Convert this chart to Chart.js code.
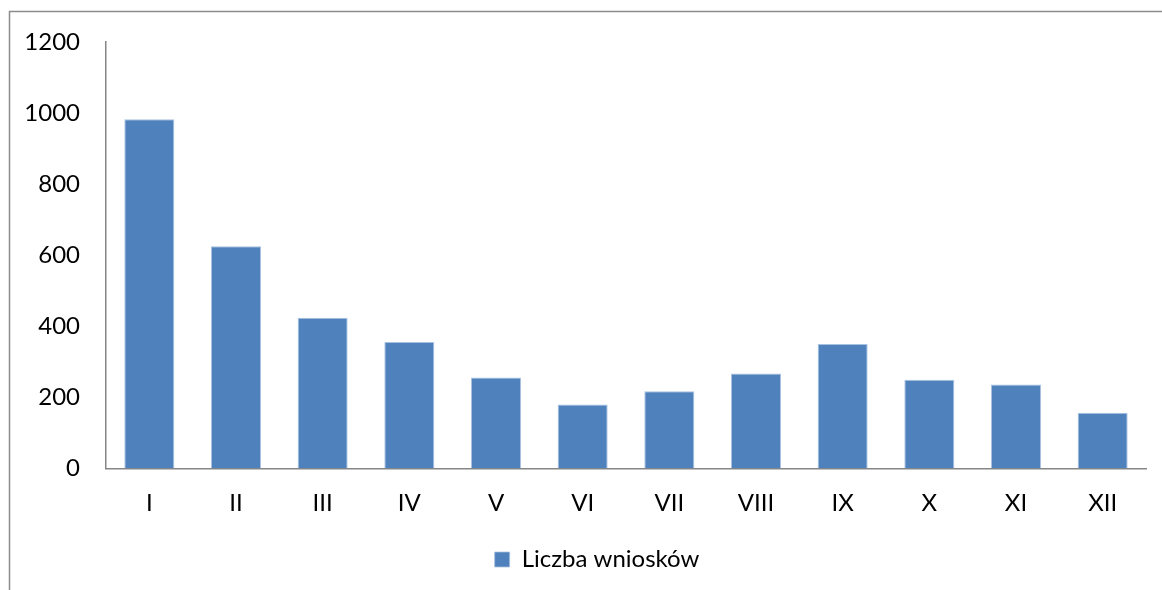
<!DOCTYPE html>
<html>
<head>
<meta charset="utf-8">
<script src="https://cdn.jsdelivr.net/npm/chart.js@4.4.0/dist/chart.umd.min.js"></script>
<style>
    html, body { margin: 0; padding: 0; background: #fff; }
    #wrap { position: relative; width: 1162px; height: 590px; }
</style>
</head>
<body>
<div id="wrap">
    <canvas id="mainChart" width="1162" height="590"></canvas>
</div>
<script>
const months = ["I", "II", "III", "IV", "V", "VI", "VII", "VIII", "IX", "X", "XI", "XII"];
const requests = [983, 625, 424, 356, 256, 180, 217, 267, 350, 250, 236, 157];
const seriesName = "Liczba wniosków";
const yTicks = [0, 200, 400, 600, 800, 1000, 1200];

const FONT = "Lato";

// frame around the chart (only left and top edges are visible in the crop)
const framePlugin = {
    id: 'frame',
    beforeDraw(chart) {
        const ctx = chart.ctx;
        ctx.save();
        ctx.fillStyle = '#fff';
        ctx.fillRect(0, 0, chart.width, chart.height);
        ctx.strokeStyle = '#8c8c8c';
        ctx.lineWidth = 1.5;
        ctx.beginPath();
        ctx.moveTo(9.5, chart.height);
        ctx.lineTo(9.5, 11.5);
        ctx.lineTo(chart.width, 11.5);
        ctx.stroke();
        ctx.restore();
    },
    // legend sits a bit right of the canvas centre in the original
    afterLayout(chart) {
        if (chart.legend) {
            chart.legend.left += 24;
            chart.legend.right += 24;
        }
    }
};

new Chart(document.getElementById("mainChart"), {
    type: 'bar',
    data: {
        labels: months,
        datasets: [{
            label: seriesName,
            data: requests,
            backgroundColor: '#4f81bd',
            borderColor: '#a9c1e0',
            borderWidth: {left: 1, right: 1, top: 1, bottom: 0},
            barPercentage: 0.577,
            categoryPercentage: 1.0
        }]
    },
    options: {
        responsive: false,
        animation: false,
        layout: { padding: { top: 42, right: 16, bottom: 8.5, left: 0 } },
        plugins: {
            legend: {
                position: 'bottom',
                labels: {
                    boxWidth: 15,
                    boxHeight: 15,
                    padding: 10,
                    color: '#000',
                    font: { family: FONT, size: 24 }
                }
            },
            tooltip: { enabled: false }
        },
        scales: {
            x: {
                grid: { display: false, drawTicks: false },
                border: { display: true, color: '#868686', width: 1.5 },
                ticks: {
                    color: '#000',
                    padding: 20,
                    font: { family: FONT, size: 24 }
                },
                afterFit(scale) { scale.height = 69; }
            },
            y: {
                min: 0,
                max: 1200,
                grid: { display: false, drawTicks: false },
                border: { display: true, color: '#868686', width: 1.5 },
                afterBuildTicks(scale) {
                    scale.ticks = yTicks.map(v => ({ value: v }));
                },
                ticks: {
                    color: '#000',
                    padding: 26,
                    font: { family: FONT, size: 24 },
                    callback: (v) => String(v)
                },
                afterFit(scale) { scale.width = 106; }
            }
        }
    },
    plugins: [framePlugin]
});
</script>
</body>
</html>
